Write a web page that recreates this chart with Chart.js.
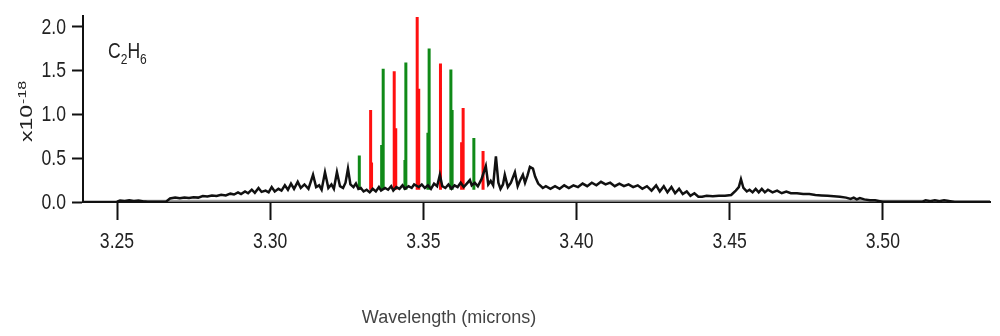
<!DOCTYPE html>
<html>
<head>
<meta charset="utf-8">
<script src="https://cdn.jsdelivr.net/npm/chart.js@4.4.1/dist/chart.umd.min.js"></script>
<style>
  html, body { margin: 0; padding: 0; background: #fff; }
  #wrap { width: 1000px; height: 336px; }
</style>
</head>
<body>
<div id="wrap"><canvas id="grafico" width="1000" height="336"></canvas></div>
<script>
// espectro medido (x10^-18), longitud de onda en micras
const specWl = [
  3.2389, 3.2500, 3.2510, 3.2525, 3.2540, 3.2555, 3.2570, 3.2585, 3.2600, 3.2660,
  3.2673, 3.2690, 3.2705, 3.2720, 3.2735, 3.2750, 3.2765, 3.2780, 3.2795, 3.2810,
  3.2825, 3.2840, 3.2855, 3.2870, 3.2882, 3.2895, 3.2905, 3.2918, 3.2928, 3.2940,
  3.2950, 3.2962, 3.2972, 3.2985, 3.2995, 3.3005, 3.3015, 3.3027, 3.3037, 3.3048,
  3.3058, 3.3068, 3.3078, 3.3090, 3.3100, 3.3112, 3.3125, 3.3140, 3.3150, 3.3160,
  3.3168, 3.3179, 3.3190, 3.3200, 3.3208, 3.3218, 3.3228, 3.3238, 3.3246, 3.3254,
  3.3262, 3.3272, 3.3280, 3.3288, 3.3296, 3.3305, 3.3315, 3.3325, 3.3335, 3.3345,
  3.3355, 3.3362, 3.3375, 3.3385, 3.3395, 3.3402, 3.3412, 3.3422, 3.3432, 3.3440,
  3.3452, 3.3462, 3.3470, 3.3485, 3.3495, 3.3505, 3.3515, 3.3525, 3.3535, 3.3545,
  3.3554, 3.3562, 3.3572, 3.3582, 3.3592, 3.3602, 3.3612, 3.3622, 3.3632, 3.3642,
  3.3652, 3.3658, 3.3668, 3.3678, 3.3690, 3.3704, 3.3712, 3.3720, 3.3728, 3.3737,
  3.3745, 3.3752, 3.3760, 3.3766, 3.3776, 3.3786, 3.3799, 3.3808, 3.3815, 3.3825,
  3.3832, 3.3840, 3.3848, 3.3858, 3.3865, 3.3875, 3.3890, 3.3900, 3.3915, 3.3930,
  3.3945, 3.3960, 3.3975, 3.3990, 3.4005, 3.4020, 3.4035, 3.4050, 3.4065, 3.4080,
  3.4095, 3.4110, 3.4125, 3.4140, 3.4155, 3.4170, 3.4185, 3.4200, 3.4215, 3.4230,
  3.4245, 3.4260, 3.4272, 3.4285, 3.4297, 3.4310, 3.4322, 3.4335, 3.4347, 3.4360,
  3.4372, 3.4385, 3.4398, 3.4410, 3.4425, 3.4445, 3.4465, 3.4485, 3.4505, 3.4520,
  3.4530, 3.4537, 3.4545, 3.4556, 3.4565, 3.4575, 3.4585, 3.4595, 3.4605, 3.4615,
  3.4625, 3.4640, 3.4655, 3.4670, 3.4685, 3.4700, 3.4720, 3.4740, 3.4760, 3.4780,
  3.4800, 3.4820, 3.4840, 3.4860, 3.4880, 3.4895, 3.4905, 3.4915, 3.4925, 3.4940,
  3.4958, 3.4975, 3.4990, 3.5000, 3.5130, 3.5140, 3.5155, 3.5170, 3.5185, 3.5200,
  3.5220, 3.5235, 3.5350
];
const specVal = [
  0.000, 0.003, 0.018, 0.012, 0.020, 0.012, 0.018, 0.008, 0.004, 0.004,
  0.040, 0.050, 0.042, 0.052, 0.045, 0.055, 0.050, 0.068, 0.062, 0.075,
  0.068, 0.082, 0.075, 0.095, 0.085, 0.110, 0.090, 0.120, 0.100, 0.140,
  0.105, 0.160, 0.115, 0.130, 0.110, 0.170, 0.120, 0.150, 0.130, 0.190,
  0.140, 0.210, 0.150, 0.230, 0.160, 0.200, 0.150, 0.310, 0.170, 0.190,
  0.140, 0.340, 0.160, 0.200, 0.150, 0.340, 0.180, 0.160, 0.220, 0.380,
  0.200, 0.170, 0.210, 0.150, 0.160, 0.120, 0.140, 0.110, 0.150, 0.120,
  0.170, 0.130, 0.160, 0.140, 0.180, 0.130, 0.170, 0.150, 0.190, 0.150,
  0.180, 0.160, 0.200, 0.170, 0.200, 0.160, 0.190, 0.150, 0.210, 0.180,
  0.310, 0.180, 0.160, 0.200, 0.150, 0.190, 0.170, 0.220, 0.170, 0.210,
  0.250, 0.190, 0.220, 0.180, 0.260, 0.410, 0.200, 0.240, 0.190, 0.520,
  0.220, 0.150, 0.200, 0.310, 0.170, 0.220, 0.340, 0.180, 0.240, 0.310,
  0.220, 0.300, 0.400, 0.380, 0.290, 0.210, 0.160, 0.180, 0.150, 0.180,
  0.150, 0.190, 0.160, 0.190, 0.170, 0.210, 0.180, 0.220, 0.190, 0.230,
  0.200, 0.220, 0.180, 0.210, 0.180, 0.200, 0.170, 0.190, 0.150, 0.180,
  0.130, 0.190, 0.120, 0.180, 0.110, 0.170, 0.100, 0.150, 0.090, 0.120,
  0.070, 0.100, 0.060, 0.060, 0.070, 0.065, 0.070, 0.070, 0.080, 0.130,
  0.170, 0.260, 0.160, 0.120, 0.140, 0.110, 0.150, 0.110, 0.150, 0.110,
  0.140, 0.110, 0.130, 0.100, 0.120, 0.100, 0.100, 0.090, 0.090, 0.080,
  0.075, 0.070, 0.065, 0.060, 0.050, 0.035, 0.050, 0.030, 0.045, 0.030,
  0.020, 0.020, 0.010, 0.003, 0.003, 0.020, 0.010, 0.020, 0.010, 0.020,
  0.010, 0.003, 0.003
];

// líneas calculadas (rojas y verdes)
const redWl  = [3.3328, 3.3331, 3.3405, 3.3410, 3.3480, 3.3485, 3.3556, 3.3625, 3.3630, 3.3695];
const redTop = [1.05,   0.45,   1.49,   0.84,   2.11,   1.29,   1.58,   0.68,   1.07,   0.58];
const greenWl  = [3.3291, 3.3364, 3.3369, 3.3440, 3.3443, 3.3515, 3.3519, 3.3590, 3.3594, 3.3665];
const greenTop = [0.53,   0.65,   1.52,   0.48,   1.59,   0.79,   1.75,   1.51,   1.05,   0.73];
const stickBase = 0.14;

// línea gris de fondo
const greyWl = [3.2585, 3.5215];
const greyVal = [0.015, 0.015];

const xTicks = [3.25, 3.30, 3.35, 3.40, 3.45, 3.50];
const yTicks = [0.0, 0.5, 1.0, 1.5, 2.0];
const tituloX = 'Wavelength (microns)';

const normal = '"Liberation Sans", Arial, sans-serif';
const estrecho = 0.8; // el original usa letra estrecha

function palitos(wl, top) {
    const pts = [];
    wl.forEach((w, i) => {
        pts.push({ x: w, y: stickBase }, { x: w, y: top[i] }, { x: w, y: null });
    });
    return pts;
}

// texto estrecho: escala horizontal alrededor del punto
function textoEstrecho(ctx, t, x, y, align) {
    ctx.save();
    ctx.translate(x, y);
    ctx.scale(estrecho, 1);
    ctx.textAlign = align;
    ctx.fillText(t, 0, 0);
    ctx.restore();
}

const textosPlugin = {
    id: 'textos',
    afterDraw(chart) {
        const ctx = chart.ctx;
        const sx = chart.scales.x, sy = chart.scales.y;
        ctx.save();

        // etiquetas de los ejes
        ctx.fillStyle = '#222';
        ctx.font = '22px ' + normal;
        ctx.textBaseline = 'middle';
        xTicks.forEach(v => textoEstrecho(ctx, v.toFixed(2), sx.getPixelForValue(v), 242, 'center'));
        yTicks.forEach(v => textoEstrecho(ctx, v.toFixed(1), 66, sy.getPixelForValue(v) + 1, 'right'));

        ctx.fillStyle = '#444';
        ctx.font = '18px ' + normal;
        ctx.textAlign = 'center';
        ctx.fillText(tituloX, 449, 318);

        // x10^-18 rotado
        ctx.fillStyle = '#222';
        ctx.textAlign = 'left';
        ctx.textBaseline = 'alphabetic';
        ctx.save();
        ctx.translate(32, 142);
        ctx.rotate(-Math.PI / 2);
        ctx.scale(1, 0.7);
        ctx.font = '23px ' + normal;
        ctx.fillText('x10', 0, 0);
        const w = ctx.measureText('x10').width;
        ctx.font = '16px ' + normal;
        ctx.fillText('-18', w + 1, -8);
        ctx.restore();

        // C2H6
        let x = 108;
        const partes = [['C', 0], ['2', 1], ['H', 0], ['6', 1]];
        partes.forEach(([t, sub]) => {
            ctx.font = (sub ? '15px ' : '22px ') + normal;
            textoEstrecho(ctx, t, x, sub ? 64 : 58, 'left');
            x += ctx.measureText(t).width * estrecho;
        });
        ctx.restore();
    }
};

const ctx = document.getElementById('grafico').getContext('2d');
new Chart(ctx, {
    type: 'line',
    data: {
        datasets: [
            {
                data: specWl.map((w, i) => ({ x: w, y: specVal[i] })),
                borderColor: '#111',
                borderWidth: 2.5
            },
            {
                data: palitos(redWl, redTop),
                borderColor: '#ff1010',
                borderWidth: 3
            },
            {
                data: palitos(greenWl, greenTop),
                borderColor: '#108a18',
                borderWidth: 3
            },
            {
                data: greyWl.map((w, i) => ({ x: w, y: greyVal[i] })),
                borderColor: '#a0a0a0',
                borderWidth: 2
            }
        ]
    },
    options: {
        responsive: false,
        animation: false,
        elements: { point: { radius: 0 }, line: { tension: 0 } },
        layout: { padding: { top: 16, right: 10, left: 0, bottom: 0 } },
        plugins: { legend: { display: false }, tooltip: { enabled: false } },
        scales: {
            x: {
                type: 'linear',
                min: 3.2389,
                max: 3.535,
                afterBuildTicks: axis => { axis.ticks = xTicks.map(v => ({ value: v })); },
                afterFit: s => { s.height = 134; },
                ticks: { display: false },
                grid: { drawOnChartArea: false, tickLength: 18, tickWidth: 2, tickColor: '#111' },
                border: { color: '#111', width: 2 }
            },
            y: {
                min: 0,
                max: 2.12,
                afterBuildTicks: axis => { axis.ticks = yTicks.map(v => ({ value: v })); },
                afterFit: s => { s.width = 83; },
                ticks: { display: false },
                grid: { drawOnChartArea: false, tickLength: 11, tickWidth: 2, tickColor: '#111' },
                border: { color: '#111', width: 2 }
            }
        }
    },
    plugins: [textosPlugin]
});
</script>
</body>
</html>
